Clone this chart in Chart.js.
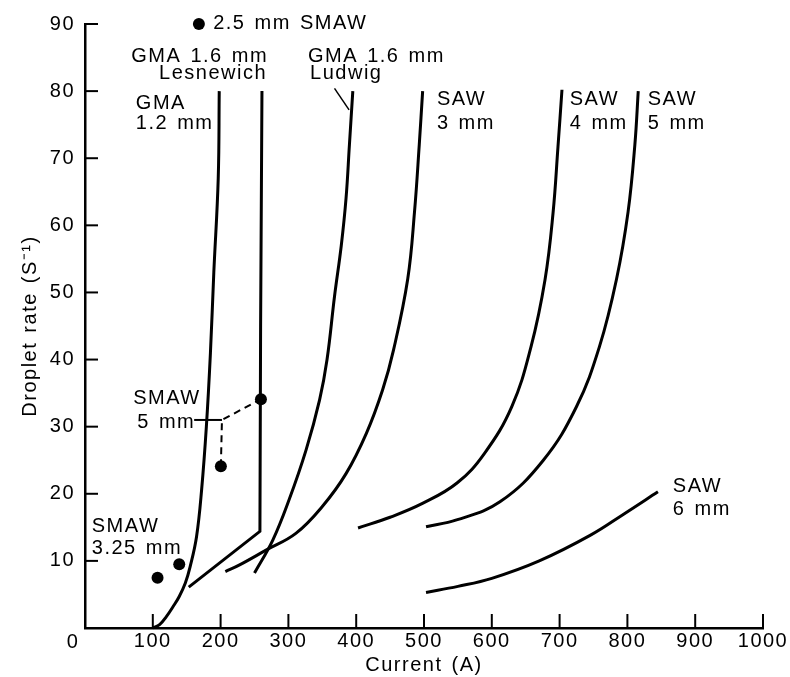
<!DOCTYPE html>
<html>
<head>
<meta charset="utf-8">
<script src="https://cdn.jsdelivr.net/npm/chart.js@4"></script>
<style>
  body { margin: 0; background: #fff; }
  #wrap { width: 790px; height: 677px; }
</style>
</head>
<body>
<div id="wrap"><canvas id="droplets" width="790" height="677"></canvas></div>
<script>
// curves: [current (A), droplet rate (1/s)]
const gma12 = [[100, 0], [110, 0.5], [120, 1.7], [130, 3.2], [139, 4.7], [148, 6.7], [155, 9.1],
  [164.5, 13.6], [172, 20.6], [179, 30], [185, 41], [190, 53], [196.5, 67], [198, 80]];
const gma16Lesnewich = [[153, 6.1], [258, 14.4], [259, 45], [261, 80]];
const gma16Ludwig = [[250, 8.2], [277, 13.1], [301, 19.1], [326, 26.5], [346, 34], [357, 40],
  [368, 49.4], [378, 57], [385, 64], [390, 72], [395, 80]];
const saw3 = [[207, 8.4], [228, 9.4], [267, 11.6], [311, 14.1], [350, 18.1], [385, 23], [415, 29],
  [439, 35.5], [455, 41.4], [476, 52], [486, 62], [493, 72], [498, 80]];
const saw4 = [[402.7, 14.9], [450, 16.5], [498.5, 18.6], [548.7, 21.6], [589, 26], [629.5, 33],
  [657.8, 41.9], [678.5, 51.9], [690.3, 61.8], [697.6, 71.7], [703.5, 80.2]];
const saw5 = [[503, 15.1], [548, 16.1], [612, 18.8], [676, 25], [725, 33], [759, 42], [784, 52],
  [801, 62], [811, 72], [816, 80]];
const saw6 = [[503, 5.3], [550, 6.2], [600, 7.4], [670, 10], [745, 13.8], [795, 17], [845, 20.3]];

// single measurements (SMAW)
const smaw25 = [[168, 90]];
const smaw325 = [[107, 7.5], [139, 9.5]];
const smaw5 = [[200.4, 24.1], [259.5, 34.1]];

// leader lines for the labels
const ludwigLeader = [[368, 80.4], [389.5, 77.2]];
const smaw5Leader = [[161, 31], [202, 31]];
const smaw5Link = [[200.4, 24.1], [202, 31], [259.5, 34.1]];

const xTicks = [100, 200, 300, 400, 500, 600, 700, 800, 900, 1000];
const yTicks = [10, 20, 30, 40, 50, 60, 70, 80, 90];

// label text anchored in data units [text, x, y, align]
const notes = [
  ["2.5 mm SMAW", 189, 89.2, "left"],
  ["GMA 1.6 mm", 270, 84.4, "right"],
  ["Lesnewich", 268.5, 81.8, "right"],
  ["GMA", 75, 77.4, "left"],
  ["1.2 mm", 75, 74.4, "left"],
  ["GMA 1.6 mm", 329, 84.4, "left"],
  ["Ludwig", 332, 81.8, "left"],
  ["SAW", 519, 78, "left"],
  ["3 mm", 519, 74.3, "left"],
  ["SAW", 715, 78, "left"],
  ["4 mm", 715, 74.3, "left"],
  ["SAW", 830, 78, "left"],
  ["5 mm", 830, 74.3, "left"],
  ["SAW", 867, 20.3, "left"],
  ["6 mm", 867, 16.8, "left"],
  ["SMAW", 71, 33.4, "left"],
  ["5 mm", 77, 29.8, "left"],
  ["SMAW", 10, 14.3, "left"],
  ["3.25 mm", 10, 11.0, "left"],
  ["0", -17.7, -3.0, "center"]
];

const pts = arr => arr.map(p => ({ x: p[0], y: p[1] }));

function curve(arr, extra) {
  return Object.assign({
    data: pts(arr),
    showLine: true,
    borderColor: "#000",
    borderWidth: 3,
    pointRadius: 0,
    tension: 0.4,
    clip: false
  }, extra || {});
}

function straight(arr, extra) {
  return curve(arr, Object.assign({ tension: 0 }, extra || {}));
}

function dots(arr) {
  return {
    data: pts(arr),
    showLine: false,
    pointRadius: 6,
    pointBackgroundColor: "#000",
    pointBorderColor: "#000",
    pointBorderWidth: 0,
    clip: false
  };
}

const FONT = "'Liberation Sans', Arial, sans-serif";
const SIZE = 20;

const inkPlugin = {
  id: "ink",
  beforeDraw(chart) {
    const c = chart.ctx;
    c.fillStyle = "#fff";
    c.fillRect(0, 0, chart.width, chart.height);
    c.letterSpacing = "1.5px";
    c.wordSpacing = "2px";
  },
  afterDraw(chart) {
    const c = chart.ctx;
    const xs = chart.scales.x, ys = chart.scales.y;
    const area = chart.chartArea;
    c.save();
    c.strokeStyle = "#000";
    c.lineWidth = 2;
    // inward tick marks
    yTicks.forEach(v => {
      const py = ys.getPixelForValue(v);
      c.beginPath(); c.moveTo(area.left, py); c.lineTo(area.left + 13, py); c.stroke();
    });
    xTicks.forEach(v => {
      const px = xs.getPixelForValue(v);
      c.beginPath(); c.moveTo(px, area.bottom); c.lineTo(px, area.bottom - 14); c.stroke();
    });
    // curve labels
    c.fillStyle = "#000";
    c.font = SIZE + "px " + FONT;
    c.textBaseline = "alphabetic";
    notes.forEach(n => {
      c.textAlign = n[3];
      c.fillText(n[0], xs.getPixelForValue(n[1]), ys.getPixelForValue(n[2]));
    });
    c.restore();
  }
};

new Chart(document.getElementById("droplets"), {
  type: "scatter",
  data: {
    datasets: [
      curve(gma12),
      straight(gma16Lesnewich),
      curve(gma16Ludwig),
      curve(saw3),
      curve(saw4),
      curve(saw5),
      curve(saw6),
      straight(ludwigLeader, { borderWidth: 1.5 }),
      straight(smaw5Leader, { borderWidth: 2 }),
      straight(smaw5Link, { borderWidth: 2, borderDash: [7, 5] }),
      dots(smaw25),
      dots(smaw325),
      dots(smaw5)
    ]
  },
  options: {
    responsive: false,
    animation: false,
    events: [],
    layout: { padding: { left: 0, top: 24, right: 27, bottom: 0 } },
    plugins: {
      legend: { display: false },
      tooltip: { enabled: false }
    },
    scales: {
      x: {
        type: "linear",
        min: 0,
        max: 1000,
        afterFit: s => { s.height = 49; },
        grid: { display: false },
        border: { display: true, color: "#000", width: 2.5 },
        ticks: {
          stepSize: 100,
          padding: -7,
          color: "#000",
          font: { family: FONT, size: SIZE },
          maxRotation: 0,
          callback: v => (v === 0 ? null : v)
        },
        title: {
          display: true,
          text: "Current (A)",
          color: "#000",
          font: { family: FONT, size: SIZE },
          padding: { top: 0, bottom: 0 }
        }
      },
      y: {
        type: "linear",
        min: 0,
        max: 90,
        afterFit: s => { s.width = 85; },
        grid: { display: false },
        border: { display: true, color: "#000", width: 2.5 },
        ticks: {
          stepSize: 10,
          padding: 2,
          color: "#000",
          font: { family: FONT, size: SIZE },
          callback: v => (v === 0 ? null : v)
        },
        title: {
          display: true,
          text: "Droplet rate (S⁻¹)",
          color: "#000",
          font: { family: FONT, size: SIZE },
          padding: { top: 18, bottom: 0 }
        }
      }
    }
  },
  plugins: [inkPlugin]
});
</script>
</body>
</html>
